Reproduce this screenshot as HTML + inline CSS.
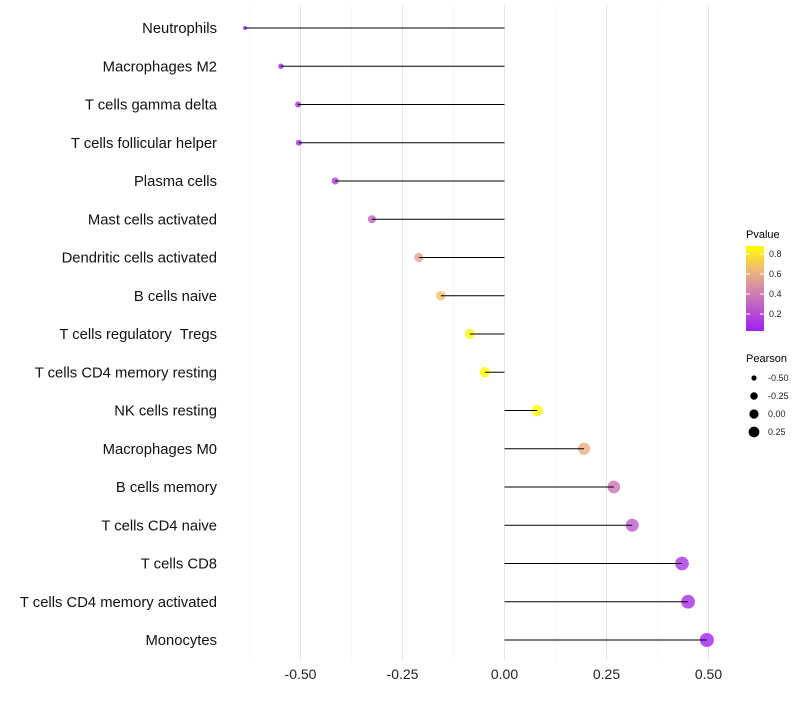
<!DOCTYPE html>
<html><head><meta charset="utf-8"><style>
body{margin:0;background:#fff;font-family:"Liberation Sans",sans-serif}
</style></head><body>
<svg id="chart" width="800" height="700" xmlns="http://www.w3.org/2000/svg" font-family="Liberation Sans, sans-serif">
<g id="grid"></g>
<g id="dots"></g>
<g id="marks"></g>
<g id="ylabels"></g>
<g id="xlabels"></g>
<g>
<defs><linearGradient id="pg" x1="0" y1="1" x2="0" y2="0">
<stop offset="0" stop-color="#a020f0"/><stop offset="0.45" stop-color="#d080b0"/><stop offset="0.72" stop-color="#f0b878"/><stop offset="1" stop-color="#ffff00"/></linearGradient></defs>
<text x="746" y="238" font-size="11">Pvalue</text>
<rect x="746" y="246" width="18" height="85" fill="url(#pg)"/>
<g id="pticks"></g>
</g>
<g>
<text x="746" y="362" font-size="11">Pearson</text>
<g id="sizeleg"></g>
</g>
</svg>
<script>
const categories=["Neutrophils","Macrophages M2","T cells gamma delta","T cells follicular helper","Plasma cells","Mast cells activated","Dendritic cells activated","B cells naive","T cells regulatory  Tregs","T cells CD4 memory resting","NK cells resting","Macrophages M0","B cells memory","T cells CD4 naive","T cells CD8","T cells CD4 memory activated","Monocytes"];
const pearson=[-0.636,-0.548,-0.506,-0.504,-0.415,-0.325,-0.21,-0.156,-0.085,-0.048,0.08,0.195,0.268,0.313,0.435,0.45,0.496];
const pvalue=[0.02,0.05,0.07,0.08,0.15,0.3,0.55,0.68,0.85,0.9,0.87,0.6,0.38,0.27,0.12,0.1,0.05];
const xTicks=[-0.5,-0.25,0,0.25,0.5];
const xTickLabels=["-0.50","-0.25","0.00","0.25","0.50"];
const pTicks=[0.2,0.4,0.6,0.8];
const sizeLegend=[-0.5,-0.25,0,0.25];
const sizeLegendLabels=["-0.50","-0.25","0.00","0.25"];
const NS="http://www.w3.org/2000/svg";
const x=v=>504.5+v*408;
const y=i=>28+i*38.25;
const r=v=>Math.sqrt(Math.max(1,29.4+40*v));
function lerp(a,b,t){return a.map((c,i)=>Math.round(c+(b[i]-c)*t));}
const stops=[[0,[160,32,240]],[0.45,[208,128,176]],[0.72,[240,184,120]],[1,[255,255,0]]];
function col(p){const t=Math.max(0,Math.min(1,(p-0.04)/0.84));
 for(let k=1;k<stops.length;k++){if(t<=stops[k][0]){const a=stops[k-1],b=stops[k];return `rgb(${lerp(a[1],b[1],(t-a[0])/(b[0]-a[0]))})`;}}
 return 'rgb(255,255,0)';}
function mk(tag,attrs,parent){const e=document.createElementNS(NS,tag);for(const k in attrs)e.setAttribute(k,attrs[k]);parent.appendChild(e);return e;}
const grid=document.getElementById('grid');
for(let v=-0.625;v<=0.5001;v+=0.125){
 const major=xTicks.some(t=>Math.abs(t-v)<1e-6);
 const l=mk('line',{x1:x(v),x2:x(v),y1:5,y2:660,stroke:major?'#e6e6e6':'#f2f2f2','stroke-width':major?1:0.7},grid);
 
 
}
const xl=document.getElementById('xlabels');
xTicks.forEach((t,i)=>{const e=mk('text',{x:x(t),y:679,'font-size':14,'text-anchor':'middle',fill:'#222'},xl);e.textContent=xTickLabels[i];
 
 });
const marks=document.getElementById('marks'),dots=document.getElementById('dots'),yl=document.getElementById('ylabels');
categories.forEach((c,i)=>{
 const d=mk('circle',{cx:x(pearson[i]),cy:y(i),r:r(pearson[i]),fill:col(pvalue[i]),'fill-opacity':0.8},dots);
 
 
 const l=mk('line',{x1:x(0),x2:x(pearson[i]),y1:y(i),y2:y(i),stroke:'#000','stroke-width':1},marks);
 
 
 const t=mk('text',{x:217,y:y(i)+5,'font-size':14.8,'text-anchor':'end',fill:'#111','xml:space':'preserve'},yl);t.textContent=c;
 t.style.whiteSpace='pre';
 
 
});
const pt=document.getElementById('pticks');
pTicks.forEach(p=>{const yy=334-p*100;
 mk('line',{x1:746,x2:750,y1:yy,y2:yy,stroke:'#fff'},pt);mk('line',{x1:760,x2:764,y1:yy,y2:yy,stroke:'#fff'},pt);
 const t=mk('text',{x:769,y:yy+3,'font-size':9,fill:'#222'},pt);t.textContent=p.toFixed(1);
 
 });
const sl=document.getElementById('sizeleg');
sizeLegend.forEach((v,i)=>{const yy=378+i*18;
 const c=mk('circle',{cx:754,cy:yy,r:r(v)*0.85,fill:'#000'},sl);
 
 
 const t=mk('text',{x:768,y:yy+3,'font-size':9,fill:'#222'},sl);t.textContent=sizeLegendLabels[i];
 
 });
</script>
</body></html>
